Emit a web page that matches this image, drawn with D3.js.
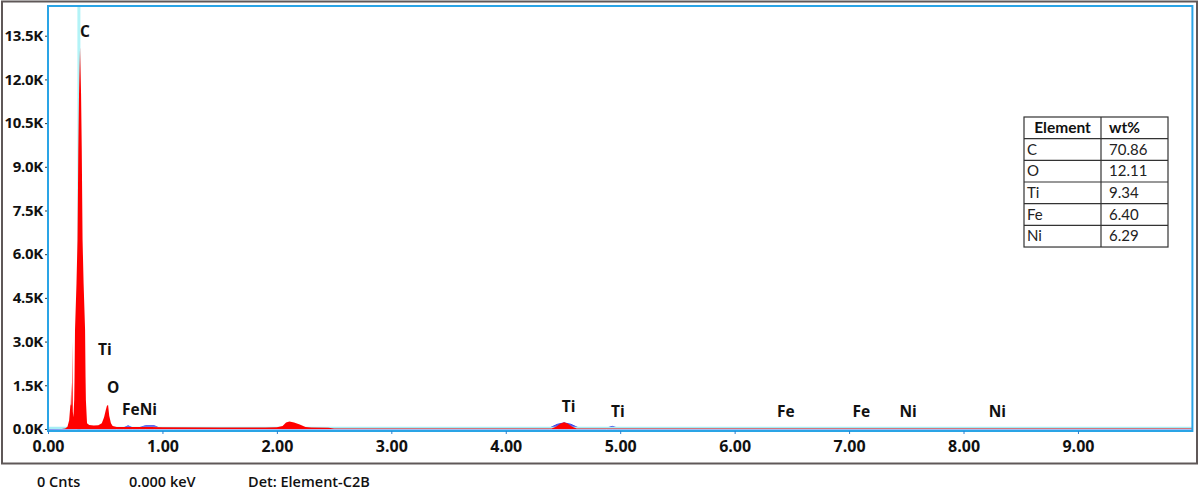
<!DOCTYPE html>
<html>
<head>
<meta charset="utf-8">
<script src="https://cdn.jsdelivr.net/npm/d3@7"></script>
<style>
  html, body { margin: 0; padding: 0; background: #fff; }
  svg { display: block; }
</style>
</head>
<body>
<script>
// ---------------- DATA ----------------
// Measured spectrum (energy keV, counts in thousands)
const spectrumKeV = [0.00, 0.12, 0.15, 0.17, 0.185, 0.195, 0.199, 0.203, 0.207, 0.209, 0.213, 0.217, 0.222,
  0.229, 0.232, 0.236, 0.249, 0.258, 0.265, 0.271, 0.280, 0.289, 0.295, 0.302, 0.311, 0.324, 0.328, 0.331, 0.341,
  0.36, 0.40, 0.44, 0.47, 0.49, 0.505, 0.515, 0.525, 0.535, 0.55, 0.565, 0.60, 0.70, 0.75, 0.90, 1.00, 1.50,
  1.90, 2.00, 2.05, 2.08, 2.11, 2.15, 2.20, 2.25, 2.30, 2.45, 2.50, 4.40, 4.44, 4.48, 4.51, 4.54, 4.58, 4.62, 10.0];
const spectrumCounts = [0.00, 0.00, 0.02, 0.08, 0.30, 0.80, 0.85, 1.60, 0.85, 0.80, 3.00, 0.60, 0.40,
  1.00, 1.80, 3.40, 5.00, 6.50, 9.60, 11.5, 13.1, 11.5, 9.60, 6.50, 5.00, 3.40, 1.80, 1.00, 0.20,
  0.14, 0.12, 0.13, 0.20, 0.40, 0.65, 0.80, 0.82, 0.45, 0.20, 0.10, 0.07, 0.07, 0.065, 0.065, 0.06, 0.05,
  0.05, 0.06, 0.10, 0.22, 0.26, 0.22, 0.15, 0.07, 0.05, 0.04, 0.02, 0.02, 0.08, 0.19, 0.23, 0.19, 0.08, 0.02, 0.02];

// Fitted / overlay trace (blue)
const fitKeV = [0.00, 0.60, 0.66, 0.70, 0.74, 0.80, 0.85, 0.93, 0.97, 1.10, 4.38, 4.45, 4.51, 4.57, 4.64,
  4.88, 4.93, 4.98, 10.0];
const fitCounts = [0.00, 0.03, 0.04, 0.11, 0.04, 0.05, 0.11, 0.11, 0.04, 0.03, 0.03, 0.16, 0.21, 0.16, 0.03,
  0.03, 0.09, 0.03, 0.03];

// Element line labels
const peakLabels = ["C", "Ti", "O", "FeNi", "Ti", "Ti", "Fe", "Fe", "Ni", "Ni"];
const peakLabelKeV = [0.28, 0.437, 0.516, 0.647, 4.49, 4.92, 6.37, 7.03, 7.44, 8.22];
const peakLabelCounts = [13.46, 2.54, 1.24, 0.48, 0.58, 0.41, 0.41, 0.41, 0.41, 0.41];

const cursorKeV = 0.27;
const baselineCounts = 0.03;

// Axis ticks
const yTicks = [0, 1.5, 3.0, 4.5, 6.0, 7.5, 9.0, 10.5, 12.0, 13.5];
const xTicks = [0, 1, 2, 3, 4, 5, 6, 7, 8, 9];

// Quantification table
const tableHeader = ["Element", "wt%"];
const tableElements = ["C", "O", "Ti", "Fe", "Ni"];
const tableWt = ["70.86", "12.11", "9.34", "6.40", "6.29"];

// Status bar
const statusTexts = ["0 Cnts", "0.000 keV", "Det: Element-C2B"];

// ---------------- DRAW ----------------
const W = 1200, H = 492;
const svg = d3.select("body").append("svg").attr("width", W).attr("height", H);

const FONT = "'Open Sans', 'DejaVu Sans', sans-serif";
const plot = { left: 48, right: 1192.4, top: 6, bottom: 431 };

const x = d3.scaleLinear().domain([0, 10]).range([plot.left, plot.right]);
const y = d3.scaleLinear().domain([-0.07, 14.52]).range([plot.bottom, plot.top]);

// outer frame
svg.append("rect").attr("x", 2).attr("y", 1.5).attr("width", 1195).attr("height", 462)
  .attr("fill", "#fff").attr("stroke", "#5f5858").attr("stroke-width", 2);

svg.append("defs").append("clipPath").attr("id", "plotclip")
  .append("rect").attr("x", plot.left).attr("y", plot.top)
  .attr("width", plot.right - plot.left).attr("height", plot.bottom - plot.top);

const g = svg.append("g").attr("clip-path", "url(#plotclip)");

// cursor line
g.append("line").attr("x1", x(cursorKeV)).attr("x2", x(cursorKeV))
  .attr("y1", plot.top).attr("y2", plot.bottom)
  .attr("stroke", "#b3f3f7").attr("stroke-width", 3);

// fit area (blue)
const fitData = fitKeV.map((k, i) => [k, fitCounts[i]]);
g.append("path").datum(fitData)
  .attr("d", d3.area().x(d => x(d[0])).y0(y(0)).y1(d => y(d[1])))
  .attr("fill", "#4a3bdc").attr("fill-opacity", 0.85)
  .attr("stroke", "#3c46e8").attr("stroke-width", 1);

// cyan baseline
g.append("line").attr("x1", plot.left).attr("x2", plot.right)
  .attr("y1", y(baselineCounts)).attr("y2", y(baselineCounts))
  .attr("stroke", "#a6eef4").attr("stroke-width", 2.5);

// spectrum (red)
const specData = spectrumKeV.map((k, i) => [k, spectrumCounts[i]]);
g.append("path").datum(specData)
  .attr("d", d3.area().x(d => x(d[0])).y0(y(0)).y1(d => y(d[1])))
  .attr("fill", "#ff0000");

// plot border (blue)
svg.append("rect").attr("x", plot.left).attr("y", plot.top)
  .attr("width", plot.right - plot.left).attr("height", plot.bottom - plot.top)
  .attr("fill", "none").attr("stroke", "#2aa4e6").attr("stroke-width", 2);

// Y axis
const yAxis = svg.append("g").attr("transform", `translate(${plot.left - 1},0)`)
  .call(d3.axisLeft(y).tickValues(yTicks).tickSize(2).tickPadding(2)
    .tickFormat(d => d.toFixed(1) + "K"));
yAxis.select(".domain").remove();
yAxis.selectAll("line").attr("stroke", "#333");
yAxis.selectAll("text").attr("font-family", FONT).attr("font-size", "15px")
  .attr("font-weight", "700").attr("fill", "#111").attr("letter-spacing", "-0.3");

// X axis
const xAxis = svg.append("g").attr("transform", `translate(0,${plot.bottom})`)
  .call(d3.axisBottom(x).tickValues(xTicks).tickSize(3).tickPadding(7)
    .tickFormat(d => d.toFixed(2)));
xAxis.select(".domain").remove();
xAxis.selectAll("line").attr("stroke", "#2a7fd0");
xAxis.selectAll("text").attr("font-family", FONT).attr("font-size", "16px")
  .attr("font-weight", "700").attr("fill", "#111");

// peak labels
svg.append("g").selectAll("text").data(peakLabels).join("text")
  .attr("x", (d, i) => x(peakLabelKeV[i]))
  .attr("y", (d, i) => y(peakLabelCounts[i]))
  .attr("font-family", FONT).attr("font-size", "15.5px").attr("font-weight", "700")
  .attr("fill", "#111").text(d => d);

// table
const tb = { left: 1024, right: 1168, mid: 1101, top: 117, rowH: 21.67 };
const nRows = tableElements.length + 1;
const tg = svg.append("g");
tg.append("rect").attr("x", tb.left).attr("y", tb.top)
  .attr("width", tb.right - tb.left).attr("height", tb.rowH * nRows)
  .attr("fill", "#fff").attr("stroke", "#333").attr("stroke-width", 1.2);
tg.append("line").attr("x1", tb.mid).attr("x2", tb.mid)
  .attr("y1", tb.top).attr("y2", tb.top + tb.rowH * nRows)
  .attr("stroke", "#333").attr("stroke-width", 1.2);
d3.range(1, nRows).forEach(r => {
  tg.append("line").attr("x1", tb.left).attr("x2", tb.right)
    .attr("y1", tb.top + r * tb.rowH).attr("y2", tb.top + r * tb.rowH)
    .attr("stroke", "#333").attr("stroke-width", 1.2);
});
const TFONT = "Lato, 'Open Sans', sans-serif";
tg.append("text").attr("x", (tb.left + tb.mid) / 2).attr("y", tb.top + 16)
  .attr("text-anchor", "middle").attr("font-family", TFONT).attr("font-size", "15.5px")
  .attr("font-weight", "700").attr("fill", "#111").text(tableHeader[0]);
tg.append("text").attr("x", tb.mid + 8).attr("y", tb.top + 16)
  .attr("font-family", TFONT).attr("font-size", "15.5px")
  .attr("font-weight", "700").attr("fill", "#111").text(tableHeader[1]);
tableElements.forEach((el, i) => {
  const yy = tb.top + (i + 1) * tb.rowH + 16;
  tg.append("text").attr("x", tb.left + 3).attr("y", yy)
    .attr("font-family", TFONT).attr("font-size", "15px").attr("fill", "#222").text(el);
  tg.append("text").attr("x", tb.mid + 8).attr("y", yy)
    .attr("font-family", TFONT).attr("font-size", "15px").attr("fill", "#222").text(tableWt[i]);
});

// status bar
const statusX = [37, 129, 248];
svg.append("g").selectAll("text").data(statusTexts).join("text")
  .attr("x", (d, i) => statusX[i]).attr("y", 487)
  .attr("font-family", FONT).attr("font-size", "14.5px").attr("font-weight", "600")
  .attr("fill", "#111").text(d => d);
</script>
</body>
</html>
